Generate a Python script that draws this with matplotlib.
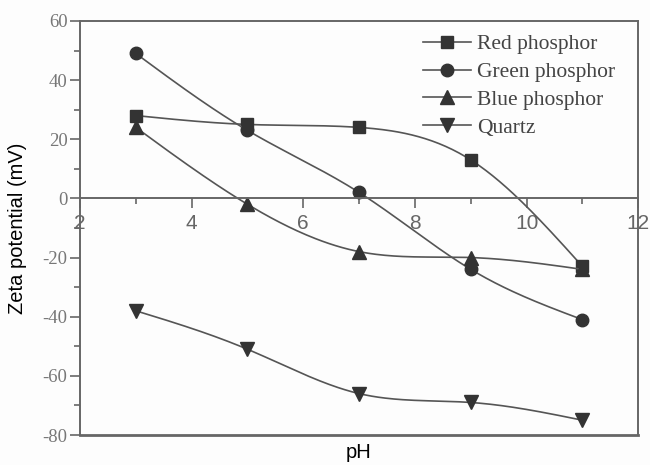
import numpy as np
import matplotlib.pyplot as plt
from matplotlib.ticker import MultipleLocator

plt.rcParams['axes.unicode_minus'] = False

# values
ph = [3, 5, 7, 9, 11]
red = [28, 25, 24, 13, -23]
green = [49, 23, 2, -24, -41]
blue = [24, -2, -18, -20, -24]
quartz = [-38, -51, -66, -69, -75]


def natural_spline(x, y, n=200):
    # natural cubic spline through the points, for the smooth connecting line
    x = np.asarray(x, float)
    y = np.asarray(y, float)
    k = len(x)
    h = np.diff(x)
    A = np.zeros((k, k))
    b = np.zeros(k)
    A[0, 0] = A[-1, -1] = 1
    for i in range(1, k - 1):
        A[i, i - 1] = h[i - 1]
        A[i, i] = 2 * (h[i - 1] + h[i])
        A[i, i + 1] = h[i]
        b[i] = 6 * ((y[i + 1] - y[i]) / h[i] - (y[i] - y[i - 1]) / h[i - 1])
    M = np.linalg.solve(A, b)
    xs = np.linspace(x[0], x[-1], n)
    idx = np.clip(np.searchsorted(x, xs) - 1, 0, k - 2)
    x0, x1 = x[idx], x[idx + 1]
    hh = x1 - x0
    t0, t1 = x1 - xs, xs - x0
    ys = (M[idx] * t0**3 + M[idx + 1] * t1**3) / (6 * hh) \
        + (y[idx] / hh - M[idx] * hh / 6) * t0 \
        + (y[idx + 1] / hh - M[idx + 1] * hh / 6) * t1
    return xs, ys


fig = plt.figure(figsize=(6.5, 4.65), dpi=100)
fig.patch.set_facecolor('#fdfdfd')
ax = fig.add_axes([0.123, 0.0645, 0.859, 0.8905])
ax.set_facecolor('#fdfdfd')

line_c = '#555555'
mark_c = '#333333'
series = [('Red phosphor', red, 's', 8.5),
          ('Green phosphor', green, 'o', 9),
          ('Blue phosphor', blue, '^', 10),
          ('Quartz', quartz, 'v', 10)]
for name, vals, m, ms in series:
    xs, ys = natural_spline(ph, vals)
    ax.plot(xs, ys, color=line_c, lw=1.2)
    ax.plot(ph, vals, ls='none', marker=m, ms=ms, color=mark_c)
    # proxy for the legend (line + marker)
    ax.plot([], [], color=line_c, lw=1.2, marker=m, ms=ms, mfc=mark_c, mec=mark_c,
            label=name)

ax.set_xlim(2, 12)
ax.set_ylim(-80, 60)

spine_c = '#666666'
for s in ax.spines.values():
    s.set_color(spine_c)
    s.set_linewidth(1.4)
ax.spines['bottom'].set_position(('data', 0))
ax.axhline(-80, color=spine_c, lw=2.0, clip_on=False)

ax.xaxis.set_major_locator(MultipleLocator(2))
ax.xaxis.set_minor_locator(MultipleLocator(1))
ax.yaxis.set_major_locator(MultipleLocator(20))
ax.yaxis.set_minor_locator(MultipleLocator(10))
ax.tick_params(axis='both', which='major', length=7, width=1.2, color=spine_c)
ax.tick_params(axis='both', which='minor', length=4, width=1.2, color=spine_c)
ax.tick_params(axis='x', labelsize=15, labelcolor='#666666', pad=4)
ax.tick_params(axis='y', labelsize=13.5, labelcolor='#777777', pad=2)
for lab in ax.get_yticklabels():
    lab.set_family('Liberation Serif')
for lab in ax.get_xticklabels():
    lab.set_family('Liberation Sans')

ax.set_ylabel('Zeta potential (mV)', fontsize=14.5, family='Liberation Sans')
ax.yaxis.set_label_coords(-0.095, 0.5)
fig.text(0.552, 0.027, 'pH', fontsize=14.5, family='Liberation Sans', ha='center', va='center')

ax.legend(loc='upper left', bbox_to_anchor=(0.615, 0.968), frameon=False,
          prop={'family': 'Liberation Serif', 'size': 15.5},
          handlelength=2.2, handletextpad=0.3, labelspacing=0.36, borderpad=0,
          borderaxespad=0, labelcolor='#444444')

fig.savefig('out.png', dpi=100, facecolor=fig.get_facecolor())
